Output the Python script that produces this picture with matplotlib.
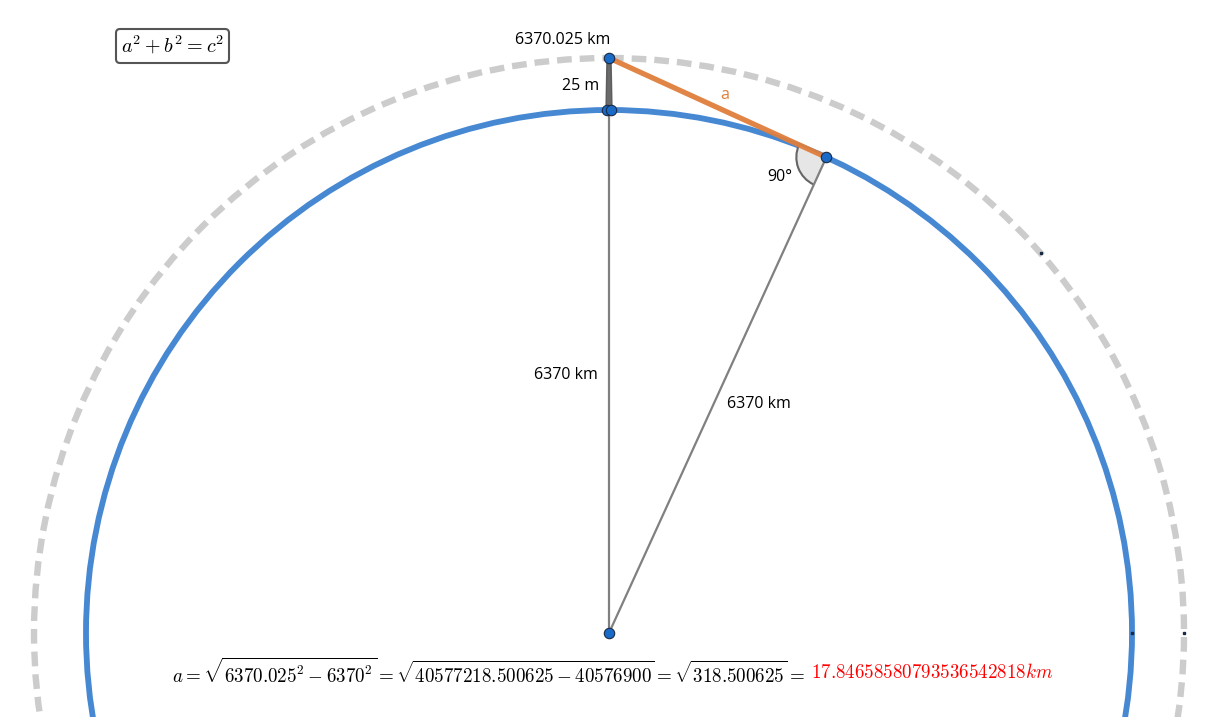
import numpy as np
import matplotlib.pyplot as plt
from matplotlib.patches import Circle, Wedge, Arc, FancyBboxPatch, Polygon

plt.rcParams['font.family'] = ['Open Sans', 'DejaVu Sans']
plt.rcParams['mathtext.fontset'] = 'cm'

# values shown in the figure
radius_km = 6370.0
height_m = 25.0
outer_km = radius_km + height_m / 1000.0
point_labels = ['6370.025 km', '25 m', '6370 km', '6370 km', '90°', 'a']
formula_black = (r'$a = \sqrt{6370.025^2 - 6370^2} = \sqrt{40577218.500625 - 40576900}'
                 r' = \sqrt{318.500625} = $')
formula_red = r'$17.846585807935365428 18km$'
pythagoras = r'$a^2 + b^2 = c^2$'

# drawing scale (not to scale: the 25 m are blown up)
cx, cy = 609, 633
r_in, r_out = 523, 575
small_dot_angles = [41.3, 0.0]  # degrees, points sitting on the circles

c_blue = '#4788d3'
c_orange = '#e07e3c'
c_gray = '#808080'
c_dash = '#cccccc'
c_pt = '#1a6bc7'

fig = plt.figure(figsize=(12.15, 7.17), dpi=100)
ax = fig.add_axes([0, 0, 1, 1])
ax.set_xlim(0, 1215)
ax.set_ylim(717, 0)
ax.set_aspect('equal')
ax.axis('off')

# circles
ax.add_patch(Circle((cx, cy), r_out, fill=False, ec=c_dash, lw=4.6, ls=(0, (2.3, 1.25)), zorder=1))
ax.add_patch(Circle((cx, cy), r_in, fill=False, ec=c_blue, lw=4.2, zorder=2))

# geometry
top_in = (cx, cy - r_in)
top_out = (cx, cy - r_out)
th = np.arccos(r_in / r_out)
tan_pt = (cx + r_in * np.sin(th), cy - r_in * np.cos(th))

# angle marker
a1 = np.degrees(np.arctan2(cy - tan_pt[1], cx - tan_pt[0]))
a2 = np.degrees(np.arctan2(top_out[1] - tan_pt[1], top_out[0] - tan_pt[0])) % 360
ax.add_patch(Wedge(tan_pt, 30, a1, a2, fc='#e6e6e6', ec='none', zorder=3))
ax.add_patch(Arc(tan_pt, 60, 60, theta1=a1, theta2=a2, ec='#666666', lw=1.5, zorder=4))

# radii
ax.plot([cx, cx], [cy, top_in[1]], color=c_gray, lw=1.6, zorder=4)
ax.plot([cx, tan_pt[0]], [cy, tan_pt[1]], color=c_gray, lw=1.6, zorder=4)

# 25 m segment
ax.add_patch(Polygon([(cx - 2, top_out[1]), (cx + 2, top_out[1]), (cx + 3, top_in[1]), (cx - 3, top_in[1])],
                     closed=True, fc='#5a5a5a', ec='#555555', lw=1, alpha=0.9, zorder=5))

# tangent a
ax.plot([top_out[0], tan_pt[0]], [top_out[1], tan_pt[1]], color=c_orange, lw=3.8,
        solid_capstyle='butt', alpha=0.95, zorder=6)

# points
pts = [top_out, (cx - 2, top_in[1]), (cx + 2, top_in[1]), tan_pt, (cx, cy)]
for px, py in pts:
    ax.plot(px, py, 'o', ms=7.5, mfc=c_pt, mec='#1a2a44', mew=0.8, zorder=8)
for ang in small_dot_angles:
    for r in (r_in, r_out) if ang == 0 else (r_out,):
        ax.plot(cx + r * np.cos(np.radians(ang)), cy - r * np.sin(np.radians(ang)), 's',
                ms=2, color='#1a2a44', zorder=8)

# labels
fs = 11.5
ax.text(top_out[0] - 46, top_out[1] - 18, point_labels[0], fontsize=fs, ha='center', va='center')
ax.text(top_out[0] - 28, 86, point_labels[1], fontsize=fs, ha='center', va='center')
ax.text(566, 375, point_labels[2], fontsize=fs, ha='center', va='center')
ax.text(759, 404, point_labels[3], fontsize=fs, ha='center', va='center')
ax.text(780, 177, point_labels[4], fontsize=fs, ha='center', va='center')
ax.text(725, 95, point_labels[5], fontsize=fs, ha='center', va='center', color=c_orange)

# formula
t = ax.text(172, 672, formula_black, fontsize=13.7, ha='left', va='center')
fig.canvas.draw()
bb = t.get_window_extent().transformed(ax.transData.inverted())
ax.text(bb.x1 + 6, 672, formula_red, fontsize=13.7, ha='left', va='center', color='red')

# a^2+b^2=c^2 box
ax.add_patch(FancyBboxPatch((116, 29), 113, 34, boxstyle='round,pad=0,rounding_size=4',
                            fc='white', ec='#555555', lw=1.5, zorder=9))
ax.text(172.5, 46, pythagoras, fontsize=14.5, ha='center', va='center', zorder=10)

fig.savefig('out.png', dpi=100)
